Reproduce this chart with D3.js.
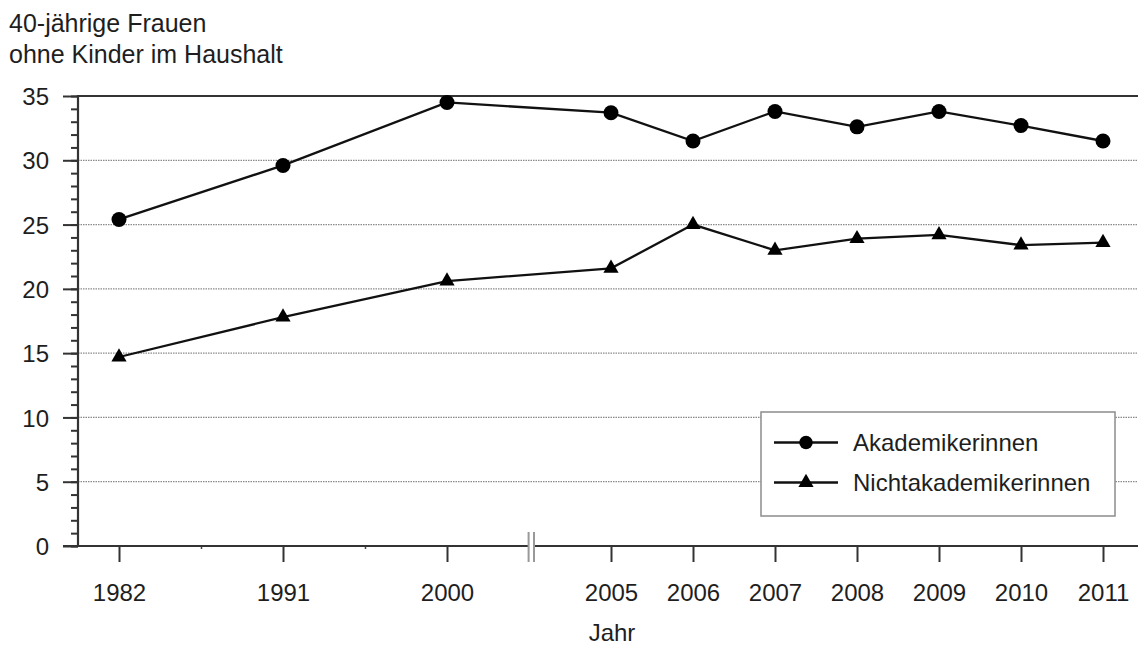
<!DOCTYPE html>
<html>
<head>
<meta charset="utf-8">
<script src="https://cdn.jsdelivr.net/npm/d3@7"></script>
<style>
  body { margin: 0; background: #fff; }
  svg { display: block; font-family: 'Liberation Sans', Arial, sans-serif; }
</style>
</head>
<body>
<div id="chart"></div>
<script>
// DATA
let years = ['1982', '1991', '2000', '2005', '2006', '2007', '2008', '2009', '2010', '2011']
let akademikerinnen = [25.4, 29.6, 34.5, 33.7, 31.5, 33.8, 32.6, 33.8, 32.7, 31.5]
let nichtakademikerinnen = [14.7, 17.8, 20.6, 21.6, 25.0, 23.0, 23.9, 24.2, 23.4, 23.6]
let yMajorTicks = [0, 5, 10, 15, 20, 25, 30, 35]
let titleLines = ['40-jährige Frauen', 'ohne Kinder im Haushalt']
let seriesNames = ['Akademikerinnen', 'Nichtakademikerinnen']
let xLabel = 'Jahr'

// the x axis has gaps: two skipped slots before 1991 and 2000, one break before 2005
let xSlots = ['1982', 'gap1', '1991', 'gap2', '2000', 'break', '2005', '2006', '2007', '2008', '2009', '2010', '2011']

let width = 1138, height = 647
let margin = { top: 96, right: 0, bottom: 101, left: 78 }
let ink = '#1e1e1e'

let svg = d3.select('#chart')
  .append('svg')
  .attr('width', width)
  .attr('height', height)

// SCALES
let x = d3.scalePoint()
  .domain(xSlots)
  .range([margin.left + 41, width - 35])

let y = d3.scaleLinear()
  .domain([0, 35])
  .range([height - margin.bottom, margin.top])

// TITLE
svg.append('g')
  .selectAll('text')
  .data(titleLines)
  .enter().append('text')
    .attr('x', 9)
    .attr('y', (d, i) => 32 + i * 31)
    .text(d => d)
    .style('font-size', '25px')
    .style('fill', ink)

// GRID LINES
svg.append('g')
  .attr('class', 'grid')
  .selectAll('line')
  .data(yMajorTicks.filter(d => d > 0 && d < 35))
  .enter().append('line')
    .attr('x1', margin.left)
    .attr('x2', width)
    .attr('y1', d => y(d))
    .attr('y2', d => y(d))
    .attr('stroke', '#8a8a8a')
    .attr('stroke-width', 1.2)
    .attr('stroke-dasharray', '1.5,1')

// top border
svg.append('line')
  .attr('x1', margin.left)
  .attr('x2', width)
  .attr('y1', y(35))
  .attr('y2', y(35))
  .attr('stroke', '#333')
  .attr('stroke-width', 2.2)

// Y AXIS
let yMinor = svg.append('g')
  .attr('transform', 'translate(' + margin.left + ',0)')
  .call(d3.axisLeft(y).tickValues(d3.range(0, 36)).tickSize(7).tickFormat(''))

let yMajor = svg.append('g')
  .attr('transform', 'translate(' + margin.left + ',0)')
  .call(d3.axisLeft(y).tickValues(yMajorTicks).tickSize(15).tickPadding(14))

yMinor.selectAll('.domain').remove()
yMajor.selectAll('.domain').remove()

svg.selectAll('.tick line')
  .attr('stroke', '#333')
  .attr('stroke-width', 2)

yMajor.selectAll('text')
  .style('font-size', '24px')
  .style('font-family', "'Liberation Sans', Arial, sans-serif")
  .attr('fill', ink)
  .attr('dy', '0.36em')

svg.append('line')
  .attr('x1', margin.left)
  .attr('x2', margin.left)
  .attr('y1', y(35) - 1)
  .attr('y2', y(0))
  .attr('stroke', '#333')
  .attr('stroke-width', 2.2)

// X AXIS
let xAxis = svg.append('g')
  .attr('transform', 'translate(0,' + y(0) + ')')
  .call(d3.axisBottom(x).tickValues(years).tickSize(16).tickPadding(22))

xAxis.selectAll('.domain').remove()
xAxis.selectAll('.tick line')
  .attr('stroke', '#333')
  .attr('stroke-width', 2)
xAxis.selectAll('text')
  .style('font-size', '24px')
  .style('font-family', "'Liberation Sans', Arial, sans-serif")
  .attr('fill', ink)

// small minor ticks at the skipped slots
let xMinor = svg.append('g')
  .attr('transform', 'translate(0,' + y(0) + ')')
  .call(d3.axisBottom(x).tickValues(['gap1', 'gap2']).tickSize(3).tickFormat(''))
xMinor.selectAll('.domain').remove()
xMinor.selectAll('.tick line')
  .attr('stroke', '#444')
  .attr('stroke-width', 1.5)

svg.append('line')
  .attr('x1', margin.left - 15)
  .attr('x2', width)
  .attr('y1', y(0))
  .attr('y2', y(0))
  .attr('stroke', '#333')
  .attr('stroke-width', 2.2)

// axis break
let bx = x('break') + 2.3
svg.append('rect')
  .attr('x', bx - 2.7)
  .attr('y', y(0) - 3)
  .attr('width', 5.4)
  .attr('height', 6)
  .attr('fill', '#fff')
svg.selectAll('.break-line')
  .data([-2.7, 2.7])
  .enter().append('line')
    .attr('class', 'break-line')
    .attr('x1', d => bx + d)
    .attr('x2', d => bx + d)
    .attr('y1', y(0) - 14)
    .attr('y2', y(0) + 16)
    .attr('stroke', '#999')
    .attr('stroke-width', 2)

// x axis title
svg.append('text')
  .attr('x', x('2005') + 1)
  .attr('y', 641)
  .attr('text-anchor', 'middle')
  .text(xLabel)
  .style('font-size', '24px')
  .style('fill', ink)

// LINES
let line = d3.line()
  .x((d, i) => x(years[i]))
  .y(d => y(d))

let series = [akademikerinnen, nichtakademikerinnen]
let symbols = [d3.symbolCircle, d3.symbolTriangle]
let symbolSizes = [Math.PI * 7.5 * 7.5, 100]

series.forEach(function (values, s) {
  svg.append('path')
    .datum(values)
    .attr('d', line)
    .attr('fill', 'none')
    .attr('stroke', '#111')
    .attr('stroke-width', 2.3)

  svg.append('g')
    .selectAll('path')
    .data(values)
    .enter().append('path')
      .attr('transform', (d, i) => 'translate(' + x(years[i]) + ',' + y(d) + ')')
      .attr('d', d3.symbol().type(symbols[s]).size(symbolSizes[s]))
      .attr('fill', '#000')
})

// LEGEND
let legend = svg.append('g')
  .attr('transform', 'translate(761,412)')

legend.append('rect')
  .attr('width', 354)
  .attr('height', 104)
  .attr('fill', '#fff')
  .attr('stroke', '#8c8c8c')
  .attr('stroke-width', 1.5)

let items = legend.selectAll('.legend-item')
  .data(seriesNames)
  .enter().append('g')
    .attr('class', 'legend-item')
    .attr('transform', (d, i) => 'translate(0,' + (30.5 + i * 40) + ')')

items.append('line')
  .attr('x1', 13)
  .attr('x2', 77)
  .attr('stroke', '#111')
  .attr('stroke-width', 2.3)

items.append('path')
  .attr('transform', 'translate(45,0)')
  .attr('d', (d, i) => d3.symbol().type(symbols[i]).size(i === 0 ? Math.PI * 6.7 * 6.7 : 100)())
  .attr('fill', '#000')

items.append('text')
  .attr('x', 92)
  .attr('dy', '0.36em')
  .text(d => d)
  .style('font-size', '24px')
  .style('fill', ink)
</script>
</body>
</html>
